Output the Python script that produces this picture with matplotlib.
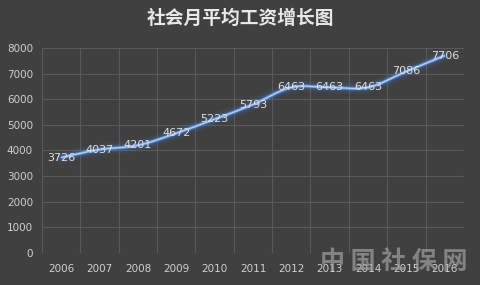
import matplotlib
matplotlib.use("Agg")
import matplotlib.pyplot as plt
import numpy as np
from matplotlib.path import Path
from matplotlib.patches import PathPatch

years = ["2006", "2007", "2008", "2009", "2010", "2011", "2012", "2013", "2014", "2015", "2016"]
wages = [3726, 4037, 4201, 4672, 5223, 5793, 6463, 6463, 6463, 7086, 7706]
title = "社会月平均工资增长图"
yticks = [0, 1000, 2000, 3000, 4000, 5000, 6000, 7000, 8000]

plt.rcParams['font.family'] = ['Noto Sans CJK SC', 'DejaVu Sans']
bg = "#404040"
fig = plt.figure(figsize=(4.8, 2.85), dpi=100, facecolor=bg)
ax = fig.add_axes([0.0875, 0.1123, 0.879, 0.7193], facecolor=bg)

x = np.arange(len(years))
y = np.array(wages, dtype=float)

# smooth curve (Catmull-Rom -> cubic Bezier) through the data points
verts = [(x[0], y[0])]
codes = [Path.MOVETO]
n = len(x)
for i in range(n - 1):
    p0 = (x[i - 1], y[i - 1]) if i > 0 else (x[i], y[i])
    p1 = (x[i], y[i])
    p2 = (x[i + 1], y[i + 1])
    p3 = (x[i + 2], y[i + 2]) if i + 2 < n else (x[i + 1], y[i + 1])
    t = 1 / 6
    c1 = (p1[0] + (p2[0] - p0[0]) * t, p1[1] + (p2[1] - p0[1]) * t)
    c2 = (p2[0] - (p3[0] - p1[0]) * t, p2[1] - (p3[1] - p1[1]) * t)
    verts += [c1, c2, p2]
    codes += [Path.CURVE4] * 3
path = Path(verts, codes)

for lw, a in [(9, 0.06), (7, 0.08), (5, 0.14), (3.5, 0.25)]:
    ax.add_patch(PathPatch(path, facecolor="none", edgecolor="#4a7fd0", lw=lw, alpha=a,
                           capstyle="round", zorder=3))
ax.add_patch(PathPatch(path, facecolor="none", edgecolor="#6f9ee0", lw=2.0, zorder=4))
ax.add_patch(PathPatch(path, facecolor="none", edgecolor="#b5cff2", lw=0.8, zorder=5))

for xi, yi in zip(x, wages):
    ax.text(xi, yi, str(yi), ha="center", va="center", fontsize=8,
            color="#e0e0e0", zorder=6, family=['DejaVu Sans'])

ax.set_xlim(-0.5, n - 0.5)
ax.set_ylim(0, 8000)
ax.set_yticks(yticks)
ax.set_yticklabels([str(v) for v in yticks])
ax.set_xticks(x)
ax.set_xticklabels(years)
ax.set_xticks(np.arange(-0.5, n, 1.0), minor=True)
ax.grid(True, which="major", axis="y", color="#595959", lw=0.8)
ax.grid(True, which="minor", axis="x", color="#595959", lw=0.8)
ax.tick_params(axis="both", which="both", length=0, colors="#d0d0d0", labelsize=7.5)
ax.tick_params(axis="x", pad=8)
ax.tick_params(axis="y", pad=6.5)
for lab in ax.get_xticklabels() + ax.get_yticklabels():
    lab.set_family(['DejaVu Sans'])
    lab.set_zorder(12)
for s in ax.spines.values():
    s.set_visible(False)

fig.text(0.5, 0.935, title, ha="center", va="center", fontsize=13.5, fontweight="bold",
         color="#e8e8e8")
fig.text(0.82, 0.08, "中 国 社 保 网", ha="center", va="center", fontsize=18, fontweight="bold",
         color="#a0a0a0", alpha=0.7, zorder=1)

fig.savefig("out.png", dpi=100, facecolor=bg)
